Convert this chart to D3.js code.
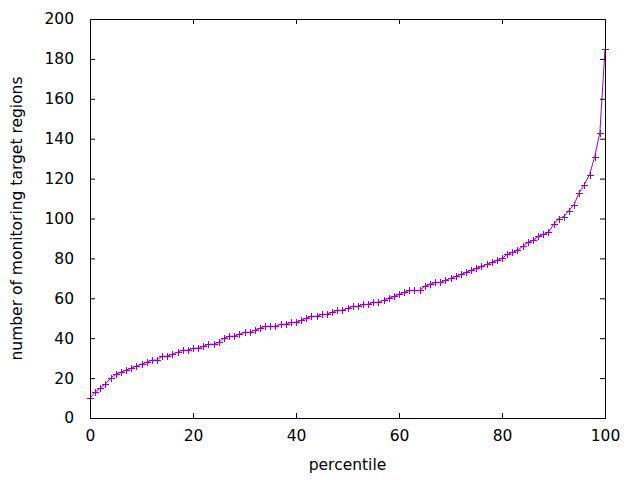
<!DOCTYPE html>
<html>
<head>
<meta charset="utf-8">
<script src="https://cdn.jsdelivr.net/npm/d3@7"></script>
<style>
  html, body { margin: 0; padding: 0; background: #fff; }
  svg { display: block; }
  text { font-family: "DejaVu Sans", sans-serif; fill: #000; }
</style>
</head>
<body>
<svg id="chart" width="640" height="480"></svg>
<script>
// ---- data ----
const percentiles = [0,1,2,3,4,5,6,7,8,9,10,11,12,13,14,15,16,17,18,19,20,
  21,22,23,24,25,26,27,28,29,30,31,32,33,34,35,36,37,38,39,40,
  41,42,43,44,45,46,47,48,49,50,51,52,53,54,55,56,57,58,59,60,
  61,62,63,64,65,66,67,68,69,70,71,72,73,74,75,76,77,78,79,80,
  81,82,83,84,85,86,87,88,89,90,91,92,93,94,95,96,97,98,99,100];
const regions = [10,13,15,17,20,22,23,24,25,26,27,28,29,29,31,31,32,33,34,34,35,
  35,36,37,37,38,40,41,41,42,43,43,44,45,46,46,46,47,47,48,48,
  49,50,51,51,52,52,53,54,54,55,56,56,57,57,58,58,59,60,61,62,
  63,64,64,64,66,67,68,68,69,70,71,72,73,74,75,76,77,78,79,80,
  82,83,84,86,88,89,91,92,93,97,100,101,104,107,113,117,122,131,143,185];
const xTicks = [0,20,40,60,80,100];
const yTicks = [0,20,40,60,80,100,120,140,160,180,200];
const xLabel = "percentile";
const yLabel = "number of monitoring target regions";

// ---- layout ----
const mLeft = 90, mRight = 605, mTop = 19, mBottom = 418;
const svg = d3.select("#chart");
const x = d3.scaleLinear().domain([0,100]).range([mLeft, mRight]);
const y = d3.scaleLinear().domain([0,200]).range([mBottom, mTop]);
const color = "#9400d3";
const tickLen = 5;
const fs = "15.5px";

// plot line
const pts = percentiles.map((p,i)=>[p, regions[i]]);
svg.append("path")
  .datum(pts)
  .attr("fill","none")
  .attr("stroke",color)
  .attr("stroke-width",1)
  .attr("d", d3.line().x(d=>x(d[0])).y(d=>y(d[1])));

// markers "+"
const ms = 3.5;
svg.append("g").selectAll("path").data(pts).join("path")
  .attr("stroke",color).attr("stroke-width",1).attr("fill","none")
  .attr("d", d => {
    const cx = Math.round(x(d[0])) + 0.5, cy = Math.round(y(d[1])) + 0.5;
    return `M${cx-ms},${cy}H${cx+ms}M${cx},${cy-ms}V${cy+ms}`;
  });

// axes using d3 axes (ticks inward), then frame
const gx = svg.append("g").attr("transform",`translate(0,${mBottom})`)
  .call(d3.axisBottom(x).tickValues(xTicks).tickSize(-tickLen).tickPadding(12).tickFormat(d3.format("d")));
const gxt = svg.append("g").attr("transform",`translate(0,${mTop})`)
  .call(d3.axisTop(x).tickValues(xTicks).tickSize(-tickLen).tickFormat(""));
const gy = svg.append("g").attr("transform",`translate(${mLeft},0)`)
  .call(d3.axisLeft(y).tickValues(yTicks).tickSize(-tickLen).tickPadding(16).tickFormat(d3.format("d")));
const gyr = svg.append("g").attr("transform",`translate(${mRight},0)`)
  .call(d3.axisRight(y).tickValues(yTicks).tickSize(-tickLen).tickFormat(""));
[gx,gxt,gy,gyr].forEach(g => {
  g.select(".domain").remove();
  g.selectAll("line").attr("stroke","#000");
  g.selectAll("text").style("font-family","DejaVu Sans, sans-serif").style("font-size",fs).attr("fill","#000");
});
gx.selectAll("text").attr("dy","0.71em");

svg.append("rect")
  .attr("x", mLeft + 0.5).attr("y", mTop + 0.5)
  .attr("width", mRight - mLeft).attr("height", mBottom - mTop)
  .attr("fill","none").attr("stroke","#000").attr("stroke-width",1);

// axis labels
svg.append("text")
  .attr("x",(mLeft+mRight)/2).attr("y",470)
  .attr("text-anchor","middle").style("font-size",fs)
  .text(xLabel);
svg.append("text")
  .attr("transform",`translate(22,${(mTop+mBottom)/2}) rotate(-90)`)
  .attr("text-anchor","middle").style("font-size",fs)
  .text(yLabel);
</script>
</body>
</html>
